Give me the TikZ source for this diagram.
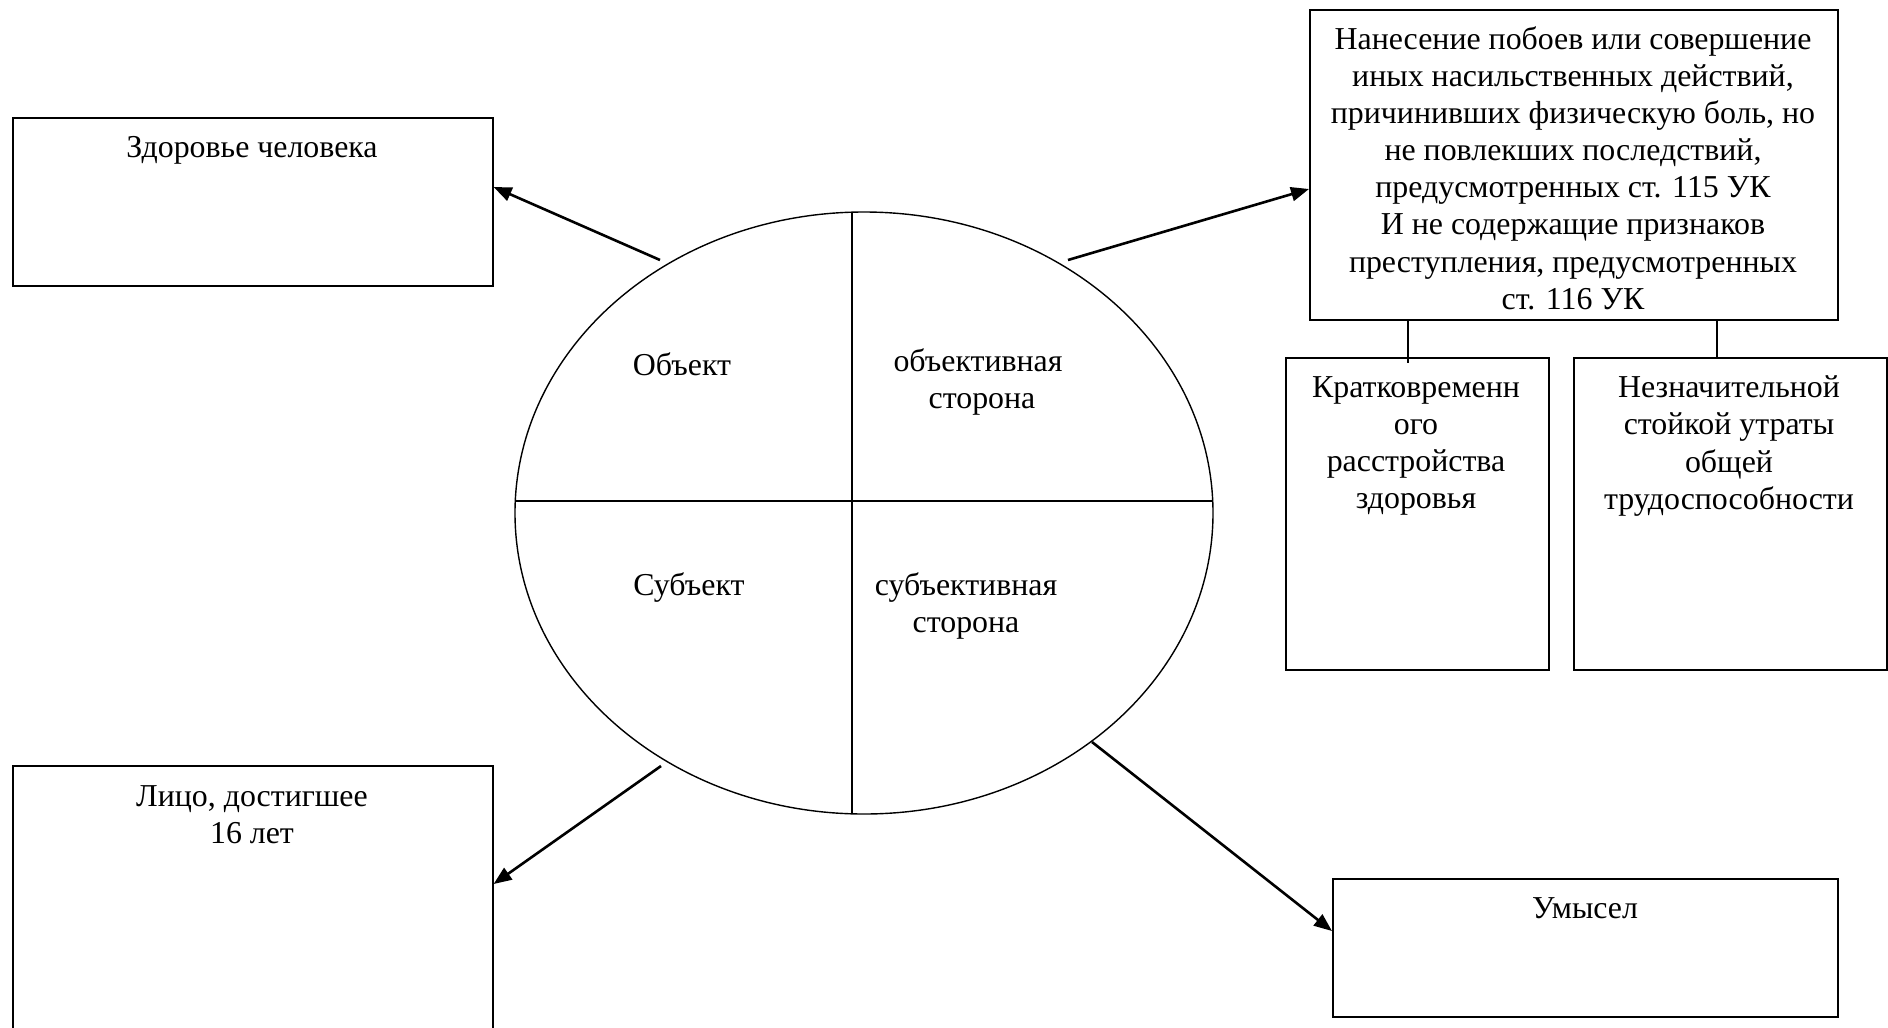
\documentclass[tikz,border=0pt]{standalone}
\usepackage{fontspec}
\setmainfont{Liberation Serif}
\usetikzlibrary{shapes.geometric,calc,arrows.meta}
\begin{document}
\begin{tikzpicture}[x=1bp,y=-1bp,
  box/.style={draw,line width=1.6bp,rectangle,inner sep=0pt,anchor=north west},
  txt/.style={inner sep=0pt,align=center,font=\fontsize{32}{37.3}\selectfont},
  arr/.style={line width=2.6bp,-{Triangle[length=18bp,width=14bp]}},
  link/.style={line width=1.6bp},
  div/.style={line width=1.4bp}]
\useasboundingbox (0,0) rectangle (1888,1027);
\fill[white] (0,0) rectangle (1888,1027);
% boxes
\node[box,minimum width=480bp,minimum height=168bp] (zd) at (12,117) {};
\node[box,minimum width=480bp,minimum height=290bp] (li) at (12,765) {};
\node[box,minimum width=528bp,minimum height=310bp] (nan) at (1309,9) {};
\node[box,minimum width=263bp,minimum height=312bp] (kr) at (1285,357) {};
\node[box,minimum width=313bp,minimum height=312bp] (nz) at (1573,357) {};
\node[box,minimum width=505bp,minimum height=138bp] (um) at (1332,878) {};
% texts
\node[txt] (tzd) at (252,150) {Здоровье человека};
\node[txt] (tli) at (252,815) {Лицо, достигшее\\16 лет};
\node[txt] (tnan) at (1573,168) {Нанесение побоев или совершение\\иных насильственных действий,\\причинивших физическую боль, но\\не повлекших последствий,\\предусмотренных ст. 115 УК\\И не содержащие признаков\\преступления, предусмотренных\\ст. 116 УК};
\node[txt] (tkr) at (1416,446) {Кратковременн\\ого\\расстройства\\здоровья};
\node[txt] (tnz) at (1729,446) {Незначительной\\стойкой утраты\\общей\\трудоспособности};
\node[txt] (tum) at (1585,908) {Умысел};
% ellipse
\node[draw,line width=1.4bp,ellipse,minimum width=698bp,minimum height=602bp,inner sep=0pt] (E) at (864,513) {};
\draw[div] ($(E.center)+(-12,-300.8)$) coordinate (vt) -- ($(E.center)+(-12,300.8)$) coordinate (vb);
\draw[div] ($(E.center)+(-348.7,-12)$) coordinate (hl) -- ($(E.center)+(348.7,-12)$) coordinate (hr);
\node[txt] (tob) at (682,364) {Объект};
\node[txt] (tos) at (978,382) {объективная\\\hspace*{0.25em}сторона};
\node[txt] (tsu) at (689,588) {Субъект};
\node[txt] (tss) at (966,606) {субъективная\\сторона};
% arrows
\coordinate (a1) at (660,260);
\coordinate (a2) at (1068,260);
\coordinate (a3) at (661,766);
\coordinate (a4) at (1092,742);
\draw[arr] (a1) -- ($(zd.north east)+(0,70)$);
\draw[arr] (a2) -- ($(nan.north west)+(0,180)$);
\draw[arr] (a3) -- ($(li.north east)+(0,119)$);
\draw[arr] (a4) -- ($(um.north west)+(0,53)$);
% links
\draw[link] ($(nan.south west)+(99,0)$) -- ($(kr.north west)+(123,6)$);
\draw[link] ($(nan.south west)+(408,0)$) -- ($(nz.north west)+(144,0)$);
\end{tikzpicture}
\end{document}
